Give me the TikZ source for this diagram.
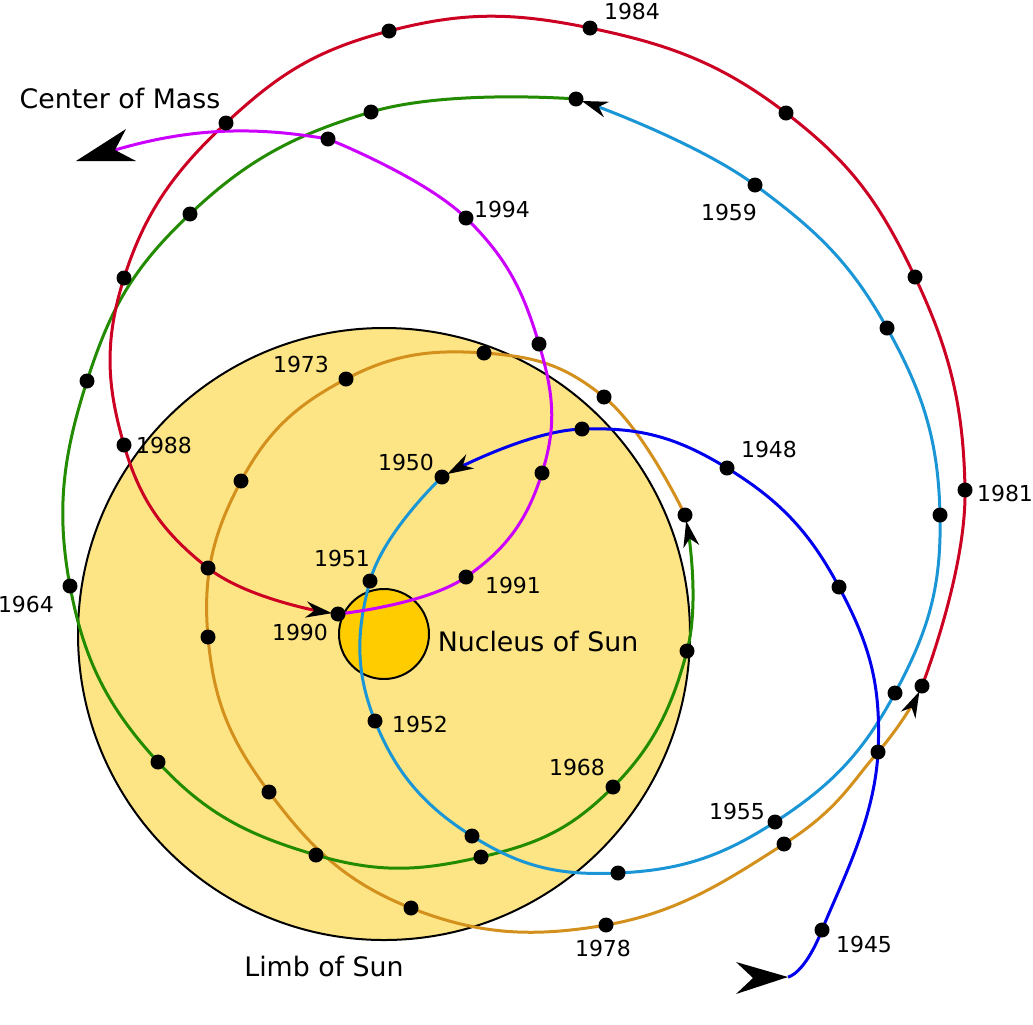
\documentclass[tikz,border=0pt]{standalone}
\usepackage{fontspec}
\setmainfont{DejaVu Sans}
\usepackage{tikz}
\usetikzlibrary{arrows.meta}
\usepackage{xcolor}
\definecolor{limbfill}{HTML}{FDE484}
\definecolor{nucleusfill}{HTML}{FFCC00}
\definecolor{redtrack}{HTML}{CC0022}
\definecolor{greentrack}{HTML}{228B00}
\definecolor{cyantrack}{HTML}{1A96D6}
\definecolor{bluetrack}{HTML}{0000EE}
\definecolor{orangetrack}{HTML}{D4901C}
\definecolor{violettrack}{HTML}{CC00FF}

\begin{document}
\begin{tikzpicture}[x=0.5pt, y=-0.5pt, every node/.style={font=\fontsize{11}{13}\selectfont}]
  \tikzstyle{track} = [line width=1.5pt]
  \tikzstyle{tiptrack} = [track, -{Stealth[length=13pt, width=8pt, inset=4pt, color=black]}, shorten >=3pt]
  \tikzstyle{yeartext} = [inner sep=0pt]
  \tikzstyle{bigtext} = [inner sep=0pt, font=\fontsize{13.4}{16}\selectfont]
  \tikzstyle{disc} = [draw=black, line width=1pt]

  \useasboundingbox (0,0) rectangle (1033,1024);

  \coordinate (start) at (788,977);
  \coordinate (y1945) at (822,930); \coordinate (y1946) at (878,752); \coordinate (y1947) at (839,587);
  \coordinate (y1948) at (727,468); \coordinate (y1949) at (582,429); \coordinate (y1950) at (442,477);
  \coordinate (y1951) at (370,581); \coordinate (y1952) at (375,721); \coordinate (y1953) at (472,836);
  \coordinate (y1954) at (618,873); \coordinate (y1955) at (775,822); \coordinate (y1956) at (895,693);
  \coordinate (y1957) at (940,515); \coordinate (y1958) at (887,328); \coordinate (y1959) at (755,185);
  \coordinate (y1960) at (576,99);  \coordinate (y1961) at (371,112); \coordinate (y1962) at (190,214);
  \coordinate (y1963) at (87,381);  \coordinate (y1964) at (70,586);  \coordinate (y1965) at (158,762);
  \coordinate (y1966) at (316,855); \coordinate (y1967) at (481,857); \coordinate (y1968) at (613,787);
  \coordinate (y1969) at (687,651); \coordinate (y1970) at (685,515); \coordinate (y1971) at (604,397);
  \coordinate (y1972) at (484,353); \coordinate (y1973) at (346,379); \coordinate (y1974) at (241,481);
  \coordinate (y1975) at (208,637); \coordinate (y1976) at (269,792); \coordinate (y1977) at (411,908);
  \coordinate (y1978) at (606,925); \coordinate (y1979) at (784,844); \coordinate (y1980) at (878,752);
  \coordinate (turn)  at (922,686); \coordinate (y1981) at (965,490); \coordinate (y1982) at (915,277);
  \coordinate (y1983) at (786,113); \coordinate (y1984) at (590,28);  \coordinate (y1985) at (389,31);
  \coordinate (y1986) at (226,123); \coordinate (y1987) at (124,278); \coordinate (y1988) at (124,445);
  \coordinate (y1989) at (208,568); \coordinate (y1990) at (338,614); \coordinate (y1991) at (466,577);
  \coordinate (y1992) at (542,473); \coordinate (y1993) at (539,344); \coordinate (y1994) at (466,218);
  \coordinate (y1995) at (328,139); \coordinate (finish) at (115,150);

  \draw[disc, fill=limbfill] (384,634) circle (306);
  \draw[disc, fill=nucleusfill] (384,634) circle (45);

  \draw[tiptrack, orangetrack] plot[smooth, tension=0.72] coordinates {(y1970) (y1971) (y1972) (y1973) (y1974) (y1975) (y1976) (y1977) (y1978) (y1979) (y1980) (turn)};
  \draw[tiptrack, greentrack] plot[smooth, tension=0.72] coordinates {(y1960) (y1961) (y1962) (y1963) (y1964) (y1965) (y1966) (y1967) (y1968) (y1969) (y1970)};
  \draw[tiptrack, cyantrack] plot[smooth, tension=0.72] coordinates {(y1950) (y1951) (y1952) (y1953) (y1954) (y1955) (y1956) (y1957) (y1958) (y1959) (y1960)};
  \draw[tiptrack, redtrack] plot[smooth, tension=0.72] coordinates {(turn) (y1981) (y1982) (y1983) (y1984) (y1985) (y1986) (y1987) (y1988) (y1989) (y1990)};
  \draw[tiptrack, bluetrack] plot[smooth, tension=0.72] coordinates {(start) (y1945) (y1946) (y1947) (y1948) (y1949) (y1950)};
  \draw[track, violettrack] plot[smooth, tension=0.72] coordinates {(y1990) (y1991) (y1992) (y1993) (y1994) (y1995)}
    .. controls (253,126) and (190,128) .. (finish);

  \fill (y1945) circle (7.5) (y1946) circle (7.5) (y1947) circle (7.5) (y1948) circle (7.5) (y1949) circle (7.5)
        (y1950) circle (7.5) (y1951) circle (7.5) (y1952) circle (7.5) (y1953) circle (7.5) (y1954) circle (7.5)
        (y1955) circle (7.5) (y1956) circle (7.5) (y1957) circle (7.5) (y1958) circle (7.5) (y1959) circle (7.5)
        (y1960) circle (7.5) (y1961) circle (7.5) (y1962) circle (7.5) (y1963) circle (7.5) (y1964) circle (7.5)
        (y1965) circle (7.5) (y1966) circle (7.5) (y1967) circle (7.5) (y1968) circle (7.5) (y1969) circle (7.5)
        (y1970) circle (7.5) (y1971) circle (7.5) (y1972) circle (7.5) (y1973) circle (7.5) (y1974) circle (7.5)
        (y1975) circle (7.5) (y1976) circle (7.5) (y1977) circle (7.5) (y1978) circle (7.5) (y1979) circle (7.5)
        (y1980) circle (7.5) (turn) circle (7.5)  (y1981) circle (7.5) (y1982) circle (7.5) (y1983) circle (7.5)
        (y1984) circle (7.5) (y1985) circle (7.5) (y1986) circle (7.5) (y1987) circle (7.5) (y1988) circle (7.5)
        (y1989) circle (7.5) (y1990) circle (7.5) (y1991) circle (7.5) (y1992) circle (7.5) (y1993) circle (7.5)
        (y1994) circle (7.5) (y1995) circle (7.5);

  \fill (finish) -- (126,129) -- (76,161) -- (136,161) -- cycle;
  \fill (start) -- (736,962) -- (753,978) -- (736,994) -- cycle;

  \node (t1945) [yeartext] at (864,944) {1945};
  \node (t1948) [yeartext] at (769,449) {1948};
  \node (t1950) [yeartext] at (406,462) {1950};
  \node (t1951) [yeartext] at (342,558) {1951};
  \node (t1952) [yeartext] at (420,724) {1952};
  \node (t1955) [yeartext] at (737,811) {1955};
  \node (t1959) [yeartext] at (729,212) {1959};
  \node (t1964) [yeartext] at (26,604) {1964};
  \node (t1968) [yeartext] at (577,767) {1968};
  \node (t1973) [yeartext] at (301,364) {1973};
  \node (t1978) [yeartext] at (603,948) {1978};
  \node (t1981) [yeartext] at (1005,493) {1981};
  \node (t1984) [yeartext] at (632,11) {1984};
  \node (t1988) [yeartext] at (164,445) {1988};
  \node (t1990) [yeartext] at (300,632) {1990};
  \node (t1991) [yeartext] at (513,585) {1991};
  \node (t1994) [yeartext] at (502,209) {1994};

  \node (mass) [bigtext] at (120,99) {Center of Mass};
  \node (nucleus) [bigtext] at (538,641) {Nucleus of Sun};
  \node (limb) [bigtext] at (324,966) {Limb of Sun};
\end{tikzpicture}
\end{document}
